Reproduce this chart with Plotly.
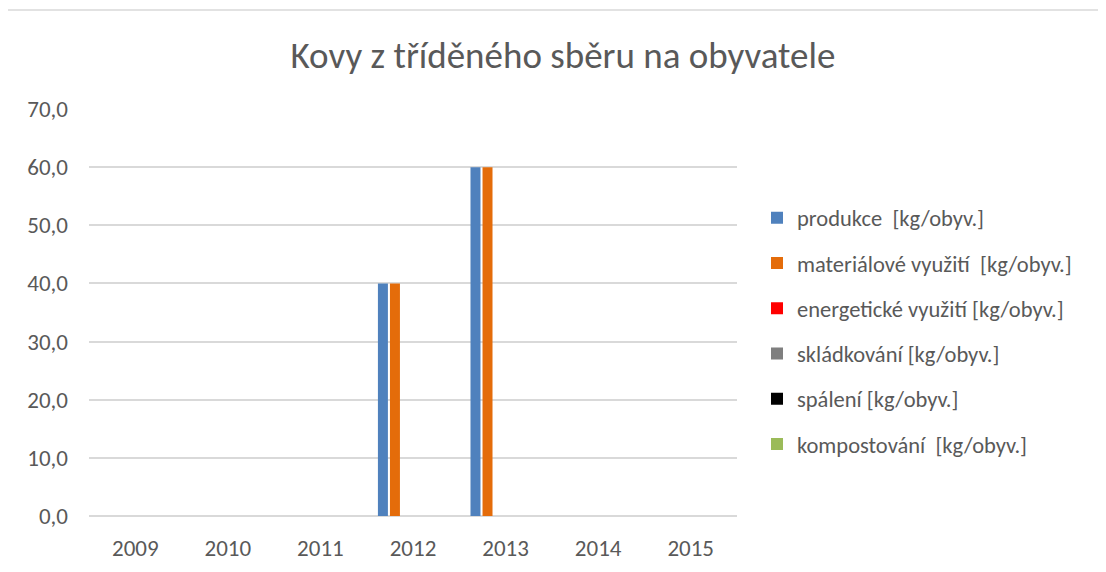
import plotly.graph_objects as go

years = ["2009", "2010", "2011", "2012", "2013", "2014", "2015"]
series_names = [
    "produkce  [kg/obyv.]",
    "materiálové využití  [kg/obyv.]",
    "energetické využití [kg/obyv.]",
    "skládkování [kg/obyv.]",
    "spálení [kg/obyv.]",
    "kompostování  [kg/obyv.]",
]
produkce = [None, None, None, 40.0, 60.0, None, None]
materialove = [None, None, None, 40.0, 60.0, None, None]
energeticke = [None, None, None, None, None, None, None]
skladkovani = [None, None, None, None, None, None, None]
spaleni = [None, None, None, None, None, None, None]
kompostovani = [None, None, None, None, None, None, None]
series_values = [produkce, materialove, energeticke, skladkovani, spaleni, kompostovani]
colors = ["#4f81bd", "#e46c0a", "#ff0000", "#7f7f7f", "#000000", "#9bbb59"]
y_ticks = [0, 10, 20, 30, 40, 50, 60, 70]
y_tick_text = ["0,0", "10,0", "20,0", "30,0", "40,0", "50,0", "60,0", "70,0"]

FONT = "Calibri, Carlito, Lato, 'Noto Sans', sans-serif"

W, H = 1090, 556
L, T, R, B = 81, 101, 361, 48
PW, PH = W - L - R, H - T - B

fig = go.Figure()
for i, (name, vals, col) in enumerate(zip(series_names, series_values, colors)):
    fig.add_trace(go.Bar(
        x=years, y=vals, name=name, marker_color=col,
        marker_line_width=0, legendgroup=f"g{i}", showlegend=True,
    ))

fig.update_layout(
    width=W, height=H,
    paper_bgcolor="white", plot_bgcolor="white",
    margin=dict(l=L, r=R, t=T, b=B),
    barmode="group", bargap=0.22, bargroupgap=0.17,
    font=dict(family=FONT, size=23, color="#595959"),
    title=dict(text="Kovy z tříděného sběru na obyvatele", x=555 / W, xanchor="center",
               y=1 - 47 / H, yanchor="middle",
               font=dict(family=FONT, size=37, color="#595959")),
    legend=dict(x=(749 - L) / PW, xanchor="left", y=(PH - (331 - 8 - T)) / PH, yanchor="middle",
                font=dict(family=FONT, size=22.5, color="#595959"),
                tracegroupgap=13, itemwidth=30, bgcolor="rgba(0,0,0,0)",
                borderwidth=0),
    showlegend=True,
)
fig.update_xaxes(showgrid=False, showline=False, ticks="", ticklabelstandoff=16,
                 automargin=False, tickfont=dict(size=23, color="#595959"))
fig.update_yaxes(range=[0, 70], tickvals=y_ticks, ticktext=y_tick_text,
                 showgrid=True, gridcolor="#d9d9d9", gridwidth=1.5,
                 zeroline=True, zerolinecolor="#d9d9d9", zerolinewidth=1.5,
                 showline=False, ticks="", ticklabelstandoff=20, automargin=False,
                 tickfont=dict(size=23, color="#595959"))
fig.add_shape(type="line", xref="paper", yref="paper",
              x0=-L / PW, x1=(W - L) / PW, y0=(PH + T - 2) / PH, y1=(PH + T - 2) / PH,
              line=dict(color="#d9d9d9", width=1.5))

fig.write_html("out.html")
